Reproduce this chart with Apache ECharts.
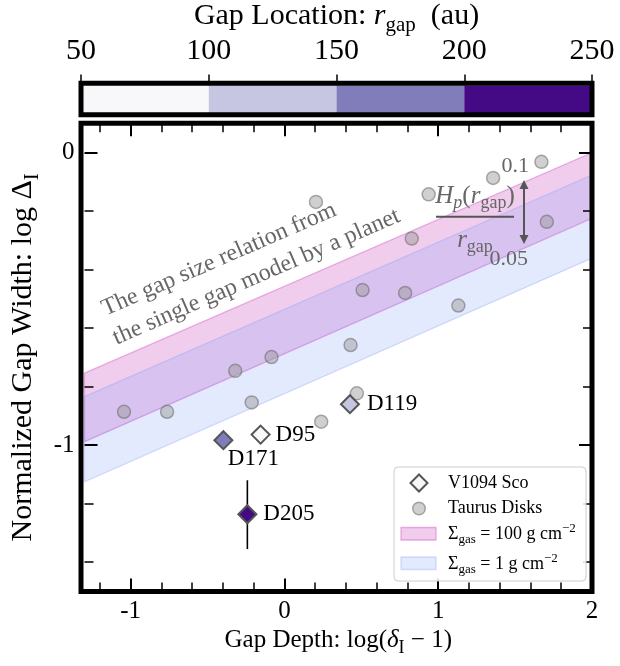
<!DOCTYPE html>
<html><head><meta charset="utf-8">
<script src="https://cdn.jsdelivr.net/npm/echarts@6/dist/echarts.min.js"></script>
<style>html,body{margin:0;padding:0;background:#fff}#c{width:620px;height:666px}</style>
</head><body><div id="c"></div>
<script>
// ---------------- data ----------------
// Taurus disks (gap depth, gap width)
const taurusDepth = [0.205, 0.938, 1.357, 1.671, 1.706, 0.828, 0.508, 0.785, 1.131, 0.430, -0.084, -0.320, -1.043, -0.763, -0.213, 0.239, 0.471];
const taurusWidth = [-0.169, -0.143, -0.087, -0.032, -0.237, -0.294, -0.470, -0.480, -0.523, -0.658, -0.699, -0.746, -0.886, -0.886, -0.854, -0.920, -0.823];
// V1094 Sco gaps
const gapNames  = ['D95', 'D119', 'D171', 'D205'];
const gapDepth  = [-0.155, 0.426, -0.397, -0.241];
const gapWidth  = [-0.964, -0.860, -0.983, -1.236];
const gapRadius = [95, 119, 171, 205];
// error bars (only D205)
const errDepth = [-0.241];
const errLow   = [-1.355];
const errHigh  = [-1.120];
// model bands (straight lines between the two x ends)
const bandX        = [-1.3, 2.0];
const band100Upper = [-0.754, -0.001];
const band100Lower = [-0.988, -0.225];
const band1Upper   = [-0.834, -0.077];
const band1Lower   = [-1.125, -0.361];
// colour bar
const cbEdges  = [50, 100, 150, 200, 250];
const cbColors = ['#f8f8fa', '#c6c6e2', '#807dba', '#440a85'];
// ticks
const xMajorTicks = [-1, 0, 1, 2];
const xMinorTicks = [-1.2, -0.8, -0.6, -0.4, -0.2, 0.2, 0.4, 0.6, 0.8, 1.2, 1.4, 1.6, 1.8];
const yMajorTicks = [-1, 0];
const yMinorTicks = [-1.4, -1.2, -0.8, -0.6, -0.4, -0.2];
const cbTicks = [50, 100, 150, 200, 250];

// ---------------- layout / style ----------------
const FONT = "'Liberation Serif', 'Times New Roman', serif";
const MAIN = {left: 81, top: 123.2, width: 511, height: 468.3};
const CB = {left: 81, top: 83.2, width: 511, height: 31.6};
const PINK_FILL = 'rgba(210,100,200,0.32)', PINK_EDGE = 'rgba(215,110,205,0.55)';
const BLUE_FILL = 'rgba(120,150,250,0.20)', BLUE_EDGE = 'rgba(140,160,245,0.35)';
const CIRC_FILL = 'rgba(150,150,150,0.45)', CIRC_EDGE = 'rgba(105,105,105,0.55)';
const GRAY_TXT = '#666';

function R(s, col) {
  col = col || '#000';
  const base = {fontFamily: FONT, color: col, fill: col};
  return {
    m: Object.assign({}, base, {fontSize: s}),
    it: Object.assign({}, base, {fontSize: s, fontStyle: 'italic'}),
    sub: Object.assign({}, base, {fontSize: Math.round(s * 0.7), padding: [Math.round(s * 0.6), 0, 0, 0]}),
    subit: Object.assign({}, base, {fontSize: Math.round(s * 0.7), fontStyle: 'italic', padding: [Math.round(s * 0.6), 0, 0, 0]}),
    sup: Object.assign({}, base, {fontSize: Math.round(s * 0.7), padding: [0, 0, Math.round(s * 0.6), 0]})
  };
}

function axis(dim, grid, pos, min, max, ticks, len, w, labels, extra) {
  const a = {
    gridIndex: grid, type: 'value', min: min, max: max, position: pos, z: 10,
    axisLine: {show: false, onZero: false}, splitLine: {show: false},
    axisTick: {show: true, inside: true, length: len, lineStyle: {color: '#000', width: w}, customValues: ticks},
    axisLabel: labels ? {show: true, customValues: labels, margin: dim === 'y' ? 10 : 7, fontFamily: FONT, fontSize: 25, color: '#000'} : {show: false}
  };
  return Object.assign(a, extra || {});
}

const chart = echarts.init(document.getElementById('c'), null, {renderer: 'canvas'});

function bandRender(upper, lower, fill, stroke) {
  return function (params, api) {
    const pts = [];
    for (let i = 0; i < bandX.length; i++) pts.push(api.coord([bandX[i], upper[i]]));
    for (let i = bandX.length - 1; i >= 0; i--) pts.push(api.coord([bandX[i], lower[i]]));
    return {type: 'polygon', shape: {points: pts}, style: {fill: fill, stroke: stroke, lineWidth: 1.3}};
  };
}

const labelStyle = {
  D95: {position: 'right', distance: 5},
  D119: {position: 'right', distance: 7},
  D171: {position: 'bottom', distance: -3, offset: [30, 0]},
  D205: {position: 'right', distance: 6}
};

const option = {
  animation: false,
  backgroundColor: '#fff',
  grid: [
    {left: MAIN.left, top: MAIN.top, width: MAIN.width, height: MAIN.height, show: false},
    {left: CB.left, top: CB.top, width: CB.width, height: CB.height, show: false}
  ],
  xAxis: [
    axis('x', 0, 'bottom', -1.3, 2, xMajorTicks, 13, 2, xMajorTicks, {
      name: '{m|Gap Depth: log(}{it|δ}{sub|I}{m| − 1)}',
      nameLocation: 'middle', nameGap: 31,
      nameTextStyle: {fontFamily: FONT, fontSize: 25, color: '#000', rich: R(25)}
    }),
    axis('x', 0, 'bottom', -1.3, 2, xMinorTicks, 9, 1.5, null),
    axis('x', 0, 'top', -1.3, 2, xMajorTicks, 13, 2, null),
    axis('x', 0, 'top', -1.3, 2, xMinorTicks, 9, 1.5, null),
    {
      gridIndex: 1, type: 'value', min: 50, max: 250, position: 'top',
      axisLine: {show: false, onZero: false}, splitLine: {show: false},
      axisTick: {show: true, inside: false, length: 11, lineStyle: {color: '#000', width: 1.5}, customValues: cbTicks},
      axisLabel: {show: true, customValues: cbTicks, margin: 19, fontFamily: FONT, fontSize: 30, color: '#000'},
      name: '{m|Gap Location: }{it|r}{sub|gap}{m|  (au)}',
      nameLocation: 'middle', nameGap: 48,
      nameTextStyle: {fontFamily: FONT, fontSize: 30, color: '#000', rich: R(30)}
    }
  ],
  yAxis: [
    axis('y', 0, 'left', -1.5, 0.1, yMajorTicks, 13, 2, yMajorTicks, {
      name: '{m|Normalized Gap Width: log Δ}{sub|I}',
      nameLocation: 'middle', nameGap: 42, nameRotate: 90,
      nameTextStyle: {fontFamily: FONT, fontSize: 30, color: '#000', rich: R(30)}
    }),
    axis('y', 0, 'left', -1.5, 0.1, yMinorTicks, 9, 1.5, null),
    axis('y', 0, 'right', -1.5, 0.1, yMajorTicks, 13, 2, null),
    axis('y', 0, 'right', -1.5, 0.1, yMinorTicks, 9, 1.5, null),
    {gridIndex: 1, type: 'value', min: 0, max: 1, show: false, axisLine: {onZero: false}}
  ],
  visualMap: {
    type: 'piecewise', show: false, dimension: 2, seriesIndex: 4,
    pieces: cbColors.map((c, i) => i < cbColors.length - 1
      ? {gte: cbEdges[i], lt: cbEdges[i + 1], color: c}
      : {gte: cbEdges[i], lte: cbEdges[i + 1], color: c})
  },
  series: [
    {type: 'custom', name: 'band100', xAxisIndex: 0, yAxisIndex: 0, z: 1, silent: true,
      renderItem: bandRender(band100Upper, band100Lower, PINK_FILL, PINK_EDGE),
      data: [[bandX[0], band100Upper[0]]]},
    {type: 'custom', name: 'band1', xAxisIndex: 0, yAxisIndex: 0, z: 1, silent: true,
      renderItem: bandRender(band1Upper, band1Lower, BLUE_FILL, BLUE_EDGE),
      data: [[bandX[0], band1Upper[0]]]},
    {type: 'scatter', name: 'Taurus Disks', xAxisIndex: 0, yAxisIndex: 0, z: 2,
      symbol: 'circle', symbolSize: 13,
      itemStyle: {color: CIRC_FILL, borderColor: CIRC_EDGE, borderWidth: 1.5, opacity: 1},
      data: taurusDepth.map((x, i) => [x, taurusWidth[i]])},
    {type: 'custom', name: 'err', xAxisIndex: 0, yAxisIndex: 0, z: 3,
      renderItem: function (params, api) {
        const p0 = api.coord([api.value(0), api.value(1)]);
        const p1 = api.coord([api.value(0), api.value(2)]);
        return {type: 'line', shape: {x1: p0[0], y1: p0[1], x2: p1[0], y2: p1[1]}, style: {stroke: '#000', lineWidth: 1.6}};
      },
      data: errDepth.map((x, i) => [x, errLow[i], errHigh[i]])},
    {type: 'scatter', name: 'V1094 Sco', xAxisIndex: 0, yAxisIndex: 0, z: 4,
      symbol: 'diamond', symbolSize: 18,
      itemStyle: {borderColor: '#555', borderWidth: 2, opacity: 1},
      label: {show: true, formatter: '{b}', fontFamily: FONT, fontSize: 23, color: '#000'},
      data: gapNames.map((n, i) => ({name: n, value: [gapDepth[i], gapWidth[i], gapRadius[i]], label: labelStyle[n]}))},
    {type: 'custom', name: 'colorbar', xAxisIndex: 4, yAxisIndex: 4, z: 1,
      renderItem: function (params, api) {
        const a = api.coord([api.value(0), 1]);
        const b = api.coord([api.value(1), 0]);
        return {type: 'rect', shape: {x: a[0], y: a[1], width: b[0] - a[0], height: b[1] - a[1]},
          style: {fill: cbColors[api.value(2)]}};
      },
      data: cbEdges.slice(0, -1).map((e, i) => [e, cbEdges[i + 1], i])}
  ],
  graphic: {elements: [
    // frames
    {type: 'rect', z: 100, shape: {x: MAIN.left, y: MAIN.top, width: MAIN.width, height: MAIN.height}, style: {fill: null, stroke: '#000', lineWidth: 5}},
    {type: 'rect', z: 100, shape: {x: CB.left, y: CB.top, width: CB.width, height: CB.height}, style: {fill: null, stroke: '#000', lineWidth: 5}},
    // rotated annotation
    {type: 'text', z: 60, x: 103, y: 310, rotation: 23.5 * Math.PI / 180,
      style: {text: 'The gap size relation from', fill: GRAY_TXT, fontFamily: FONT, fontSize: 24, align: 'left', verticalAlign: 'middle'}},
    {type: 'text', z: 60, x: 114, y: 339, rotation: 23.5 * Math.PI / 180,
      style: {text: 'the single gap model by a planet', fill: GRAY_TXT, fontFamily: FONT, fontSize: 24, align: 'left', verticalAlign: 'middle'}},
    // H_p / r_gap annotation
    {type: 'text', z: 60, x: 475, y: 196,
      style: {text: '{it|H}{subit|p}{m|(}{it|r}{sub|gap}{m|)}', rich: R(25, GRAY_TXT), fill: GRAY_TXT, fontFamily: FONT, fontSize: 25, align: 'center', verticalAlign: 'middle'}},
    {type: 'line', z: 60, shape: {x1: 436, y1: 216.7, x2: 514, y2: 216.7}, style: {stroke: '#555', lineWidth: 2}},
    {type: 'text', z: 60, x: 475, y: 240,
      style: {text: '{it|r}{sub|gap}', rich: R(25, GRAY_TXT), fill: GRAY_TXT, fontFamily: FONT, fontSize: 25, align: 'center', verticalAlign: 'middle'}},
    {type: 'text', z: 60, x: 529, y: 166.5,
      style: {text: '0.1', fill: GRAY_TXT, fontFamily: FONT, fontSize: 22, align: 'right', verticalAlign: 'middle'}},
    {type: 'text', z: 60, x: 528, y: 259,
      style: {text: '0.05', fill: GRAY_TXT, fontFamily: FONT, fontSize: 22, align: 'right', verticalAlign: 'middle'}},
    {type: 'line', z: 60, shape: {x1: 524, y1: 186, x2: 524, y2: 238}, style: {stroke: '#555', lineWidth: 2}},
    {type: 'polygon', z: 60, shape: {points: [[524, 180], [528.5, 189], [519.5, 189]]}, style: {fill: '#555'}},
    {type: 'polygon', z: 60, shape: {points: [[524, 244], [528.5, 235], [519.5, 235]]}, style: {fill: '#555'}},
    // legend
    {type: 'rect', z: 90, shape: {x: 394, y: 467, width: 192, height: 114, r: 4}, style: {fill: 'rgba(255,255,255,0.85)', stroke: '#cccccc', lineWidth: 1}},
    {type: 'polygon', z: 91, shape: {points: [[419, 474.5], [427.5, 483], [419, 491.5], [410.5, 483]]}, style: {fill: cbColors[0], stroke: '#555', lineWidth: 2}},
    {type: 'circle', z: 91, shape: {cx: 419, cy: 508.5, r: 6.3}, style: {fill: CIRC_FILL, stroke: CIRC_EDGE, lineWidth: 1.5}},
    {type: 'rect', z: 91, shape: {x: 401, y: 527.5, width: 35, height: 12.5}, style: {fill: PINK_FILL, stroke: PINK_EDGE, lineWidth: 1.3}},
    {type: 'rect', z: 91, shape: {x: 401, y: 557, width: 35, height: 12.5}, style: {fill: BLUE_FILL, stroke: BLUE_EDGE, lineWidth: 1.3}},
    {type: 'text', z: 92, x: 448, y: 483, style: {text: 'V1094 Sco', fill: '#000', fontFamily: FONT, fontSize: 18, align: 'left', verticalAlign: 'middle'}},
    {type: 'text', z: 92, x: 448, y: 508, style: {text: 'Taurus Disks', fill: '#000', fontFamily: FONT, fontSize: 18, align: 'left', verticalAlign: 'middle'}},
    {type: 'text', z: 92, x: 448, y: 534, style: {text: '{m|Σ}{sub|gas}{m| = 100 g cm}{sup|−2}', rich: R(18), fill: '#000', fontFamily: FONT, fontSize: 18, align: 'left', verticalAlign: 'middle'}},
    {type: 'text', z: 92, x: 448, y: 564, style: {text: '{m|Σ}{sub|gas}{m| = 1 g cm}{sup|−2}', rich: R(18), fill: '#000', fontFamily: FONT, fontSize: 18, align: 'left', verticalAlign: 'middle'}}
  ]}
};
chart.setOption(option);
</script>
</body></html>
